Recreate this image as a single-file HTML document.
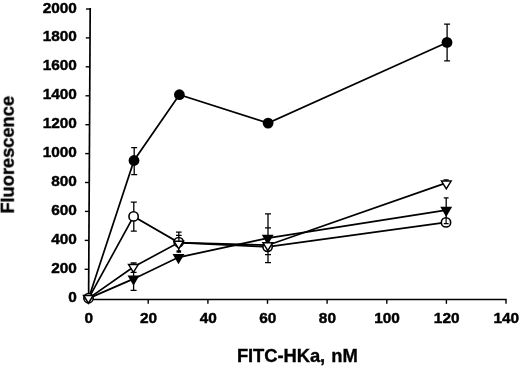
<!DOCTYPE html>
<html><head><meta charset="utf-8"><title>Fluorescence vs FITC-HKa</title>
<style>
html,body{margin:0;padding:0;background:#fff;}
body{width:520px;height:366px;overflow:hidden;}
svg{display:block;}
.t{font-family:"Liberation Sans",Arial,sans-serif;font-weight:bold;font-size:15.4px;fill:#000;stroke:#000;stroke-width:0.45px;}
.a{font-family:"Liberation Sans",Arial,sans-serif;font-weight:bold;font-size:18.4px;fill:#000;letter-spacing:-0.08px;stroke:#000;stroke-width:0.35px;word-spacing:1.2px;}
</style></head><body>
<svg width="520" height="366" viewBox="0 0 520 366">
<rect width="520" height="366" fill="#fff"/>
<defs><filter id="soft" x="-5%" y="-5%" width="110%" height="110%"><feGaussianBlur stdDeviation="0.35"/></filter></defs>
<g filter="url(#soft)">
<path d="M88.6 300.4 L90.2 8.1" stroke="#000" stroke-width="1.7" fill="none"/>
<path d="M88 299.55 H506.7" stroke="#000" stroke-width="1.5" fill="none"/>
<path d="M86.0 9.0 H90.2" stroke="#000" stroke-width="1.4"/>
<path d="M85.8 37.9 H90.0" stroke="#000" stroke-width="1.4"/>
<path d="M85.7 66.8 H89.9" stroke="#000" stroke-width="1.4"/>
<path d="M85.5 95.8 H89.7" stroke="#000" stroke-width="1.4"/>
<path d="M85.4 124.7 H89.6" stroke="#000" stroke-width="1.4"/>
<path d="M85.2 153.6 H89.4" stroke="#000" stroke-width="1.4"/>
<path d="M85.0 182.5 H89.2" stroke="#000" stroke-width="1.4"/>
<path d="M84.9 211.4 H89.1" stroke="#000" stroke-width="1.4"/>
<path d="M84.7 240.4 H88.9" stroke="#000" stroke-width="1.4"/>
<path d="M84.6 269.3 H88.8" stroke="#000" stroke-width="1.4"/>
<path d="M84.4 298.2 H88.6" stroke="#000" stroke-width="1.4"/>
<path d="M148.2 299.7 V303.8" stroke="#000" stroke-width="1.4"/>
<path d="M207.9 299.7 V303.8" stroke="#000" stroke-width="1.4"/>
<path d="M267.5 299.7 V303.8" stroke="#000" stroke-width="1.4"/>
<path d="M327.1 299.7 V303.8" stroke="#000" stroke-width="1.4"/>
<path d="M386.8 299.7 V303.8" stroke="#000" stroke-width="1.4"/>
<path d="M446.4 299.7 V303.8" stroke="#000" stroke-width="1.4"/>
<path d="M506.0 299.7 V303.8" stroke="#000" stroke-width="1.4"/>
<polyline points="88.6,298.4 134.0,160.5 179.4,94.7 268.1,123.1 447.0,42.4" fill="none" stroke="#000" stroke-width="1.7"/>
<polyline points="88.6,298.4 133.6,216.4 178.7,242.6 267.6,246.8 446.0,222.4" fill="none" stroke="#000" stroke-width="1.7"/>
<polyline points="88.6,298.4 133.5,278.9 178.5,257.3 267.7,238.2 446.2,210.2" fill="none" stroke="#000" stroke-width="1.7"/>
<polyline points="88.6,298.4 133.4,267.0 178.7,242.6 267.8,245.2 446.3,182.9" fill="none" stroke="#000" stroke-width="1.7"/>
<path d="M134.2 147.6 V174.7 M131.2 147.6 H137.2 M131.2 174.7 H137.2" fill="none" stroke="#000" stroke-width="1.3"/>
<path d="M447.1 24.1 V60.8 M444.1 24.1 H450.1 M444.1 60.8 H450.1" fill="none" stroke="#000" stroke-width="1.3"/>
<path d="M133.8 202.2 V231.1 M130.8 202.2 H136.8 M130.8 231.1 H136.8" fill="none" stroke="#000" stroke-width="1.3"/>
<path d="M133.6 263.0 V290.3 M130.6 263.0 H136.6 M130.6 272.3 H136.6 M130.6 290.3 H136.6" fill="none" stroke="#000" stroke-width="1.3"/>
<path d="M178.8 232.2 V252.5 M176.0 232.2 H181.6 M176.0 235.4 H181.6" fill="none" stroke="#000" stroke-width="1.3"/>
<path d="M178.8 250.0 V252.5 M176.5 250.9 H181.1 M176.5 252.2 H181.1" fill="none" stroke="#000" stroke-width="1.3"/>
<path d="M268.0 213.8 V262.6 M265.0 213.8 H271.0 M265.0 227.9 H271.0 M265.0 254.6 H271.0 M265.0 262.6 H271.0" fill="none" stroke="#000" stroke-width="1.3"/>
<path d="M446.1 179.9 V184.0 M443.5 179.9 H448.7" fill="none" stroke="#000" stroke-width="1.3"/>
<path d="M446.2 197.9 V224.0 M443.8 197.9 H448.6" fill="none" stroke="#000" stroke-width="1.3"/>
<circle cx="133.6" cy="216.4" r="4.65" fill="#fff" stroke="#000" stroke-width="1.6"/>
<circle cx="178.7" cy="242.2" r="4.65" fill="#fff" stroke="#000" stroke-width="1.6"/>
<circle cx="267.6" cy="246.8" r="4.65" fill="#fff" stroke="#000" stroke-width="1.6"/>
<circle cx="446.0" cy="222.4" r="4.65" fill="#fff" stroke="#000" stroke-width="1.6"/>
<path d="M127.55 275.50 H139.45 L133.50 285.80 Z" fill="#000"/>
<path d="M172.55 253.90 H184.45 L178.50 264.20 Z" fill="#000"/>
<path d="M261.75 234.80 H273.65 L267.70 245.10 Z" fill="#000"/>
<path d="M440.25 206.80 H452.15 L446.20 217.10 Z" fill="#000"/>
<path d="M128.60 264.60 H138.20 L133.40 272.35 Z" fill="#fff" stroke="#000" stroke-width="1.5" stroke-linejoin="miter"/>
<path d="M173.90 241.20 H183.50 L178.70 248.95 Z" fill="#fff" stroke="#000" stroke-width="1.5" stroke-linejoin="miter"/>
<path d="M263.00 242.80 H272.60 L267.80 250.55 Z" fill="#fff" stroke="#000" stroke-width="1.5" stroke-linejoin="miter"/>
<path d="M441.50 181.10 H451.10 L446.30 188.85 Z" fill="#fff" stroke="#000" stroke-width="1.5" stroke-linejoin="miter"/>
<circle cx="134.0" cy="160.5" r="5.4" fill="#000"/>
<circle cx="179.4" cy="94.7" r="5.4" fill="#000"/>
<circle cx="268.1" cy="123.1" r="5.4" fill="#000"/>
<circle cx="447.0" cy="42.4" r="5.4" fill="#000"/>
<circle cx="88.5" cy="298.2" r="4.65" fill="#fff" stroke="#000" stroke-width="1.6"/>
<path d="M83.60 295.50 H93.20 L88.40 303.25 Z" fill="#fff" stroke="#000" stroke-width="1.5" stroke-linejoin="miter"/>
<path d="M178.9 237.5 V241" stroke="#000" stroke-width="1.3"/>
<path d="M446.1 218 V224 M443.8 223.6 H448.6" stroke="#000" stroke-width="1.2" fill="none"/>
<text transform="translate(76.9 12.5) scale(1 0.97)" text-anchor="end" class="t">2000</text>
<text transform="translate(76.9 41.4) scale(1 0.97)" text-anchor="end" class="t">1800</text>
<text transform="translate(76.9 70.3) scale(1 0.97)" text-anchor="end" class="t">1600</text>
<text transform="translate(76.9 99.3) scale(1 0.97)" text-anchor="end" class="t">1400</text>
<text transform="translate(76.9 128.2) scale(1 0.97)" text-anchor="end" class="t">1200</text>
<text transform="translate(76.9 157.1) scale(1 0.97)" text-anchor="end" class="t">1000</text>
<text transform="translate(76.9 186.0) scale(1 0.97)" text-anchor="end" class="t">800</text>
<text transform="translate(76.9 214.9) scale(1 0.97)" text-anchor="end" class="t">600</text>
<text transform="translate(76.9 243.9) scale(1 0.97)" text-anchor="end" class="t">400</text>
<text transform="translate(76.9 272.8) scale(1 0.97)" text-anchor="end" class="t">200</text>
<text transform="translate(76.9 301.7) scale(1 0.97)" text-anchor="end" class="t">0</text>
<text transform="translate(88.9 323.1) scale(1 0.99)" text-anchor="middle" class="t">0</text>
<text transform="translate(148.5 323.1) scale(1 0.99)" text-anchor="middle" class="t">20</text>
<text transform="translate(208.2 323.1) scale(1 0.99)" text-anchor="middle" class="t">40</text>
<text transform="translate(267.8 323.1) scale(1 0.99)" text-anchor="middle" class="t">60</text>
<text transform="translate(327.4 323.1) scale(1 0.99)" text-anchor="middle" class="t">80</text>
<text transform="translate(387.1 323.1) scale(1 0.99)" text-anchor="middle" class="t">100</text>
<text transform="translate(446.7 323.1) scale(1 0.99)" text-anchor="middle" class="t">120</text>
<text transform="translate(506.3 323.1) scale(1 0.99)" text-anchor="middle" class="t">140</text>
<text x="297.3" y="361.8" text-anchor="middle" class="a">FITC-HKa, nM</text>
<text transform="translate(13.8 154.8) rotate(-90)" text-anchor="middle" class="a">Fluorescence</text>
</g>
</svg>
</body></html>
